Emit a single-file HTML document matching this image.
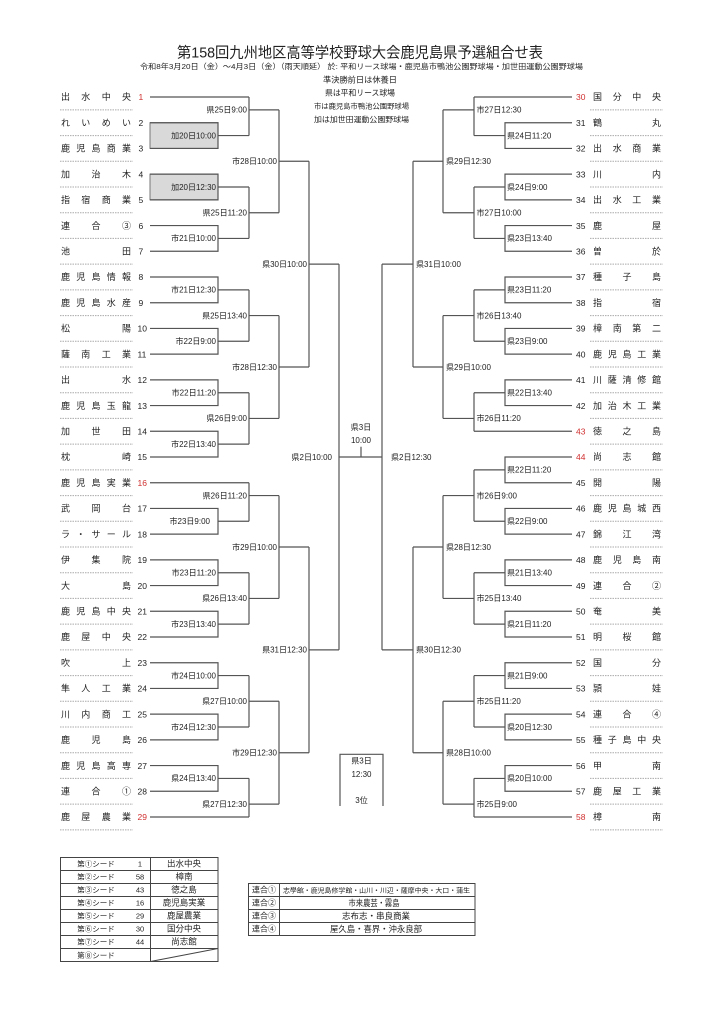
<!DOCTYPE html>
<html><head><meta charset="utf-8">
<style>
html,body{margin:0;padding:0;background:#fff;}
svg{display:block;}
text{font-family:"Liberation Sans","Noto Sans CJK JP",sans-serif;fill:#222;}
.t{font-size:9px;}
.n{font-size:8.5px;}
.l{font-size:8px;}
.red{fill:#d03030;}
</style></head>
<body>
<svg width="724" height="1024" viewBox="0 0 724 1024" xmlns="http://www.w3.org/2000/svg">
<rect width="724" height="1024" fill="#fff"/>

<!-- Header -->
<text x="177" y="57.3" font-size="15" textLength="366" lengthAdjust="spacingAndGlyphs">第158回九州地区高等学校野球大会鹿児島県予選組合せ表</text>
<text x="140" y="69.2" font-size="7.5" textLength="443" lengthAdjust="spacingAndGlyphs">令和8年3月20日（金）～4月3日（金）（雨天順延） 於: 平和リース球場・鹿児島市鴨池公園野球場・加世田運動公園野球場</text>
<text x="360" y="82.3" font-size="8" text-anchor="middle" textLength="74" lengthAdjust="spacingAndGlyphs">準決勝前日は休養日</text>
<text x="360" y="95.7" font-size="8" text-anchor="middle" textLength="70" lengthAdjust="spacingAndGlyphs">県は平和リース球場</text>
<text x="361.5" y="108.7" font-size="7" text-anchor="middle" textLength="95" lengthAdjust="spacingAndGlyphs">市は鹿児島市鴨池公園野球場</text>
<text x="361.5" y="122" font-size="7.5" text-anchor="middle" textLength="95" lengthAdjust="spacingAndGlyphs">加は加世田運動公園野球場</text>

<!-- gray boxes -->
<rect x="150" y="122.7" width="68" height="25.7" fill="#d9d9d9" stroke="#777" stroke-width="1"/>
<rect x="150" y="174.1" width="68" height="25.7" fill="#d9d9d9" stroke="#777" stroke-width="1"/>

<!-- separators -->
<g transform="translate(0 97) scale(1 12.857143)">
<path vector-effect="non-scaling-stroke" fill="none" stroke="#aaa" stroke-width="1" stroke-dasharray="1.5 1" d="M60 1H133M60 3H133M60 5H133M60 7H133M60 9H133M60 11H133M60 13H133M60 15H133M60 17H133M60 19H133M60 21H133M60 23H133M60 25H133M60 27H133M60 29H133M60 31H133M60 33H133M60 35H133M60 37H133M60 39H133M60 41H133M60 43H133M60 45H133M60 47H133M60 49H133M60 51H133M60 53H133M60 55H133M60 57H133"/>
<path vector-effect="non-scaling-stroke" fill="none" stroke="#aaa" stroke-width="1" stroke-dasharray="1.5 1" d="M590 1H663M590 3H663M590 5H663M590 7H663M590 9H663M590 11H663M590 13H663M590 15H663M590 17H663M590 19H663M590 21H663M590 23H663M590 25H663M590 27H663M590 29H663M590 31H663M590 33H663M590 35H663M590 37H663M590 39H663M590 41H663M590 43H663M590 45H663M590 47H663M590 49H663M590 51H663M590 53H663M590 55H663M590 57H663"/>

<!-- bracket lines -->
<path vector-effect="non-scaling-stroke" fill="none" stroke="#555" stroke-width="1.2" d="M150 0H249M150 2H218V4H150M218 3H249M150 6H218V8H150M218 7H249M150 10H218V12H150M218 11H249M150 14H218V16H150M218 15H249M150 18H218V20H150M218 19H249M150 22H218V24H150M218 23H249M150 26H218V28H150M218 27H249M150 30H249M150 32H218V34H150M218 33H249M150 36H218V38H150M218 37H249M150 40H218V42H150M218 41H249M150 44H218V46H150M218 45H249M150 48H218V50H150M218 49H249M150 52H218V54H150M218 53H249M150 56H249M249 0V3M249 1H279M249 7V11M249 9H279M249 15V19M249 17H279M249 23V27M249 25H279M249 30V33M249 31H279M249 37V41M249 39H279M249 45V49M249 47H279M249 53V56M249 55H279M279 1V9M279 5H309M279 17V25M279 21H309M279 31V39M279 35H309M279 47V55M279 51H309M309 5V21M309 13H339M309 35V51M309 43H339M339 13V43M339 28H382M382 13V43M361 28V27.2"/>
<path vector-effect="non-scaling-stroke" fill="none" stroke="#555" stroke-width="1.2" d="M413 5V21M413 13H382M413 35V51M413 43H382M443 1V9M443 5H413M443 17V25M443 21H413M443 31V39M443 35H413M443 47V55M443 51H413M474 0V3M474 1H443M474 7V11M474 9H443M474 15V19M474 17H443M474 23V26M474 25H443M474 29V33M474 31H443M474 37V41M474 39H443M474 45V49M474 47H443M474 53V56M474 55H443M572 0H474M572 26H474M572 56H474M572 2H505V4H572M505 3H474M572 6H505V8H572M505 7H474M572 10H505V12H572M505 11H474M572 14H505V16H572M505 15H474M572 18H505V20H572M505 19H474M572 22H505V24H572M505 23H474M572 28H505V30H572M505 29H474M572 32H505V34H572M505 33H474M572 36H505V38H572M505 37H474M572 40H505V42H572M505 41H474M572 44H505V46H572M505 45H474M572 48H505V50H572M505 49H474M572 52H505V54H572M505 53H474"/>
</g>

<!-- center labels -->
<text class="l" x="361" y="430" text-anchor="middle">県3日</text>
<text class="l" x="361" y="443" text-anchor="middle">10:00</text>

<!-- third place -->
<path d="M340 806V754.3H383V806" fill="none" stroke="#555" stroke-width="1.2"/>
<text class="l" x="361.5" y="763.7" text-anchor="middle">県3日</text>
<text class="l" x="361.5" y="777" text-anchor="middle">12:30</text>
<text class="l" x="361.5" y="803" text-anchor="middle">3位</text>

<!-- Left team names -->
<g class="t">
<text class="t" x="61 81.3 101.7 122" y="100.2">出水中央</text>
<text class="t" x="61 81.3 101.7 122" y="125.9">れいめい</text>
<text class="t" x="61 76.3 91.5 106.8 122" y="151.6">鹿児島商業</text>
<text class="t" x="61 91.5 122" y="177.3">加治木</text>
<text class="t" x="61 81.3 101.7 122" y="203.1">指宿商業</text>
<text class="t" x="61 91.5 122" y="228.8">連合③</text>
<text class="t" x="61 122" y="254.5">池田</text>
<text class="t" x="61 76.3 91.5 106.8 122" y="280.2">鹿児島情報</text>
<text class="t" x="61 76.3 91.5 106.8 122" y="305.9">鹿児島水産</text>
<text class="t" x="61 122" y="331.6">松陽</text>
<text class="t" x="61 81.3 101.7 122" y="357.3">薩南工業</text>
<text class="t" x="61 122" y="383.1">出水</text>
<text class="t" x="61 76.3 91.5 106.8 122" y="408.8">鹿児島玉龍</text>
<text class="t" x="61 91.5 122" y="434.5">加世田</text>
<text class="t" x="61 122" y="460.2">枕崎</text>
<text class="t" x="61 76.3 91.5 106.8 122" y="485.9">鹿児島実業</text>
<text class="t" x="61 91.5 122" y="511.6">武岡台</text>
<text class="t" x="61 76.3 91.5 106.8 122" y="537.3">ラ・サール</text>
<text class="t" x="61 91.5 122" y="563.1">伊集院</text>
<text class="t" x="61 122" y="588.8">大島</text>
<text class="t" x="61 76.3 91.5 106.8 122" y="614.5">鹿児島中央</text>
<text class="t" x="61 81.3 101.7 122" y="640.2">鹿屋中央</text>
<text class="t" x="61 122" y="665.9">吹上</text>
<text class="t" x="61 81.3 101.7 122" y="691.6">隼人工業</text>
<text class="t" x="61 81.3 101.7 122" y="717.3">川内商工</text>
<text class="t" x="61 91.5 122" y="743.1">鹿児島</text>
<text class="t" x="61 76.3 91.5 106.8 122" y="768.8">鹿児島高専</text>
<text class="t" x="61 91.5 122" y="794.5">連合①</text>
<text class="t" x="61 81.3 101.7 122" y="820.2">鹿屋農業</text>
</g>

<!-- Left numbers -->
<g>
<text class="n red" x="138.5" y="100.2">1</text>
<text class="n" x="138.5" y="125.9">2</text>
<text class="n" x="138.5" y="151.6">3</text>
<text class="n" x="138.5" y="177.3">4</text>
<text class="n" x="138.5" y="203.1">5</text>
<text class="n" x="138.5" y="228.8">6</text>
<text class="n" x="138.5" y="254.5">7</text>
<text class="n" x="138.5" y="280.2">8</text>
<text class="n" x="138.5" y="305.9">9</text>
<text class="n" x="137.5" y="331.6">10</text>
<text class="n" x="137.5" y="357.3">11</text>
<text class="n" x="137.5" y="383.1">12</text>
<text class="n" x="137.5" y="408.8">13</text>
<text class="n" x="137.5" y="434.5">14</text>
<text class="n" x="137.5" y="460.2">15</text>
<text class="n red" x="137.5" y="485.9">16</text>
<text class="n" x="137.5" y="511.6">17</text>
<text class="n" x="137.5" y="537.3">18</text>
<text class="n" x="137.5" y="563.1">19</text>
<text class="n" x="137.5" y="588.8">20</text>
<text class="n" x="137.5" y="614.5">21</text>
<text class="n" x="137.5" y="640.2">22</text>
<text class="n" x="137.5" y="665.9">23</text>
<text class="n" x="137.5" y="691.6">24</text>
<text class="n" x="137.5" y="717.3">25</text>
<text class="n" x="137.5" y="743.1">26</text>
<text class="n" x="137.5" y="768.8">27</text>
<text class="n" x="137.5" y="794.5">28</text>
<text class="n red" x="137.5" y="820.2">29</text>
</g>

<!-- Right numbers -->
<g>
<text class="n red" x="576" y="100.2">30</text>
<text class="n" x="576" y="125.9">31</text>
<text class="n" x="576" y="151.6">32</text>
<text class="n" x="576" y="177.3">33</text>
<text class="n" x="576" y="203.1">34</text>
<text class="n" x="576" y="228.8">35</text>
<text class="n" x="576" y="254.5">36</text>
<text class="n" x="576" y="280.2">37</text>
<text class="n" x="576" y="305.9">38</text>
<text class="n" x="576" y="331.6">39</text>
<text class="n" x="576" y="357.3">40</text>
<text class="n" x="576" y="383.1">41</text>
<text class="n" x="576" y="408.8">42</text>
<text class="n red" x="576" y="434.5">43</text>
<text class="n red" x="576" y="460.2">44</text>
<text class="n" x="576" y="485.9">45</text>
<text class="n" x="576" y="511.6">46</text>
<text class="n" x="576" y="537.3">47</text>
<text class="n" x="576" y="563.1">48</text>
<text class="n" x="576" y="588.8">49</text>
<text class="n" x="576" y="614.5">50</text>
<text class="n" x="576" y="640.2">51</text>
<text class="n" x="576" y="665.9">52</text>
<text class="n" x="576" y="691.6">53</text>
<text class="n" x="576" y="717.3">54</text>
<text class="n" x="576" y="743.1">55</text>
<text class="n" x="576" y="768.8">56</text>
<text class="n" x="576" y="794.5">57</text>
<text class="n red" x="576" y="820.2">58</text>
</g>

<!-- Right team names -->
<g>
<text class="t" x="593 612.7 632.3 652" y="100.2">国分中央</text>
<text class="t" x="593 652" y="125.9">鶴丸</text>
<text class="t" x="593 612.7 632.3 652" y="151.6">出水商業</text>
<text class="t" x="593 652" y="177.3">川内</text>
<text class="t" x="593 612.7 632.3 652" y="203.1">出水工業</text>
<text class="t" x="593 652" y="228.8">鹿屋</text>
<text class="t" x="593 652" y="254.5">曽於</text>
<text class="t" x="593 622.5 652" y="280.2">種子島</text>
<text class="t" x="593 652" y="305.9">指宿</text>
<text class="t" x="593 612.7 632.3 652" y="331.6">樟南第二</text>
<text class="t" x="593 607.8 622.5 637.3 652" y="357.3">鹿児島工業</text>
<text class="t" x="593 607.8 622.5 637.3 652" y="383.1">川薩清修館</text>
<text class="t" x="593 607.8 622.5 637.3 652" y="408.8">加治木工業</text>
<text class="t" x="593 622.5 652" y="434.5">徳之島</text>
<text class="t" x="593 622.5 652" y="460.2">尚志館</text>
<text class="t" x="593 652" y="485.9">開陽</text>
<text class="t" x="593 607.8 622.5 637.3 652" y="511.6">鹿児島城西</text>
<text class="t" x="593 622.5 652" y="537.3">錦江湾</text>
<text class="t" x="593 612.7 632.3 652" y="563.1">鹿児島南</text>
<text class="t" x="593 622.5 652" y="588.8">連合②</text>
<text class="t" x="593 652" y="614.5">奄美</text>
<text class="t" x="593 622.5 652" y="640.2">明桜館</text>
<text class="t" x="593 652" y="665.9">国分</text>
<text class="t" x="593 652" y="691.6">頴娃</text>
<text class="t" x="593 622.5 652" y="717.3">連合④</text>
<text class="t" x="593 607.8 622.5 637.3 652" y="743.1">種子島中央</text>
<text class="t" x="593 652" y="768.8">甲南</text>
<text class="t" x="593 612.7 632.3 652" y="794.5">鹿屋工業</text>
<text class="t" x="593 652" y="820.2">樟南</text>
</g>

<!-- Left match labels -->
<g text-anchor="end">
<text class="l" x="216" y="138.4">加20日10:00</text>
<text class="l" x="216" y="189.8">加20日12:30</text>
<text class="l" x="216" y="241.2">市21日10:00</text>
<text class="l" x="216" y="292.7">市21日12:30</text>
<text class="l" x="216" y="344.1">市22日9:00</text>
<text class="l" x="216" y="395.5">市22日11:20</text>
<text class="l" x="216" y="446.9">市22日13:40</text>
<text class="l" x="210" y="524.1">市23日9:00</text>
<text class="l" x="216" y="575.5">市23日11:20</text>
<text class="l" x="216" y="626.9">市23日13:40</text>
<text class="l" x="216" y="678.4">市24日10:00</text>
<text class="l" x="216" y="729.8">市24日12:30</text>
<text class="l" x="216" y="781.2">県24日13:40</text>
<text class="l" x="247" y="112.7">県25日9:00</text>
<text class="l" x="247" y="215.5">県25日11:20</text>
<text class="l" x="247" y="318.4">県25日13:40</text>
<text class="l" x="247" y="421.2">県26日9:00</text>
<text class="l" x="247" y="498.4">県26日11:20</text>
<text class="l" x="247" y="601.2">県26日13:40</text>
<text class="l" x="247" y="704.1">県27日10:00</text>
<text class="l" x="247" y="806.9">県27日12:30</text>
<text class="l" x="277" y="164.1">市28日10:00</text>
<text class="l" x="277" y="369.8">市28日12:30</text>
<text class="l" x="277" y="549.8">市29日10:00</text>
<text class="l" x="277" y="755.5">市29日12:30</text>
<text class="l" x="307" y="266.9">県30日10:00</text>
<text class="l" x="307" y="652.7">県31日12:30</text>
<text class="l" x="332" y="459.8">県2日10:00</text>
</g>

<!-- Right match labels -->
<g>
<text class="l" x="507" y="138.4">県24日11:20</text>
<text class="l" x="507" y="189.8">県24日9:00</text>
<text class="l" x="507" y="241.2">県23日13:40</text>
<text class="l" x="507" y="292.7">県23日11:20</text>
<text class="l" x="507" y="344.1">県23日9:00</text>
<text class="l" x="507" y="395.5">県22日13:40</text>
<text class="l" x="507" y="472.7">県22日11:20</text>
<text class="l" x="507" y="524.1">県22日9:00</text>
<text class="l" x="507" y="575.5">県21日13:40</text>
<text class="l" x="507" y="626.9">県21日11:20</text>
<text class="l" x="507" y="678.4">県21日9:00</text>
<text class="l" x="507" y="729.8">県20日12:30</text>
<text class="l" x="507" y="781.2">県20日10:00</text>
<text class="l" x="476.5" y="112.7">市27日12:30</text>
<text class="l" x="476.5" y="215.5">市27日10:00</text>
<text class="l" x="476.5" y="318.4">市26日13:40</text>
<text class="l" x="476.5" y="421.2">市26日11:20</text>
<text class="l" x="476.5" y="498.4">市26日9:00</text>
<text class="l" x="476.5" y="601.2">市25日13:40</text>
<text class="l" x="476.5" y="704.1">市25日11:20</text>
<text class="l" x="476.5" y="806.9">市25日9:00</text>
<text class="l" x="446" y="164.1">県29日12:30</text>
<text class="l" x="446" y="369.8">県29日10:00</text>
<text class="l" x="446" y="549.8">県28日12:30</text>
<text class="l" x="446" y="755.5">県28日10:00</text>
<text class="l" x="416" y="266.9">県31日10:00</text>
<text class="l" x="416" y="652.7">県30日12:30</text>
<text class="l" x="391" y="459.8">県2日12:30</text>
</g>

<!-- Seed table -->
<g fill="none" stroke="#444" stroke-width="1">
<rect x="60.5" y="857.5" width="157.5" height="104"/>
<path d="M60.5 870.5H218M60.5 883.5H218M60.5 896.5H218M60.5 909.5H218M60.5 922.5H218M60.5 935.5H218M60.5 948.5H218M150.5 857.5V961.5M150.5 961.5L218 948.5"/>
</g>
<g font-size="7.5">
<text x="96" y="866.3" text-anchor="middle">第①シード</text>
<text x="96" y="879.3" text-anchor="middle">第②シード</text>
<text x="96" y="892.3" text-anchor="middle">第③シード</text>
<text x="96" y="905.3" text-anchor="middle">第④シード</text>
<text x="96" y="918.3" text-anchor="middle">第⑤シード</text>
<text x="96" y="931.3" text-anchor="middle">第⑥シード</text>
<text x="96" y="944.3" text-anchor="middle">第⑦シード</text>
<text x="96" y="957.8" text-anchor="middle">第⑧シード</text>
<text x="140" y="866.3" text-anchor="middle">1</text>
<text x="140" y="879.3" text-anchor="middle">58</text>
<text x="140" y="892.3" text-anchor="middle">43</text>
<text x="140" y="905.3" text-anchor="middle">16</text>
<text x="140" y="918.3" text-anchor="middle">29</text>
<text x="140" y="931.3" text-anchor="middle">30</text>
<text x="140" y="944.3" text-anchor="middle">44</text>
<text x="184" y="866.6" text-anchor="middle" font-size="8.5">出水中央</text>
<text x="184" y="879.6" text-anchor="middle" font-size="8.5">樟南</text>
<text x="184" y="892.6" text-anchor="middle" font-size="8.5">徳之島</text>
<text x="184" y="905.6" text-anchor="middle" font-size="8.5">鹿児島実業</text>
<text x="184" y="918.6" text-anchor="middle" font-size="8.5">鹿屋農業</text>
<text x="184" y="931.6" text-anchor="middle" font-size="8.5">国分中央</text>
<text x="184" y="944.6" text-anchor="middle" font-size="8.5">尚志館</text>
</g>

<!-- Union table -->
<g fill="none" stroke="#444" stroke-width="1">
<rect x="248.5" y="883.5" width="226.5" height="52"/>
<path d="M248.5 896.5H475M248.5 909.5H475M248.5 922.5H475M279.5 883.5V935.5"/>
</g>
<g font-size="8">
<text x="264" y="892.6" text-anchor="middle">連合①</text>
<text x="264" y="905.6" text-anchor="middle">連合②</text>
<text x="264" y="918.6" text-anchor="middle">連合③</text>
<text x="264" y="931.6" text-anchor="middle">連合④</text>
<text x="283" y="892.3" font-size="6.5" textLength="187" lengthAdjust="spacingAndGlyphs">志學館・鹿児島修学館・山川・川辺・薩摩中央・大口・蒲生</text>
<text x="374" y="906" text-anchor="middle" font-size="8.5" textLength="51" lengthAdjust="spacingAndGlyphs">市来農芸・霧島</text>
<text x="376" y="919" text-anchor="middle" font-size="8.5" textLength="68" lengthAdjust="spacingAndGlyphs">志布志・串良商業</text>
<text x="376" y="932" text-anchor="middle" font-size="8.5" textLength="92" lengthAdjust="spacingAndGlyphs">屋久島・喜界・沖永良部</text>
</g>
</svg>
</body></html>
